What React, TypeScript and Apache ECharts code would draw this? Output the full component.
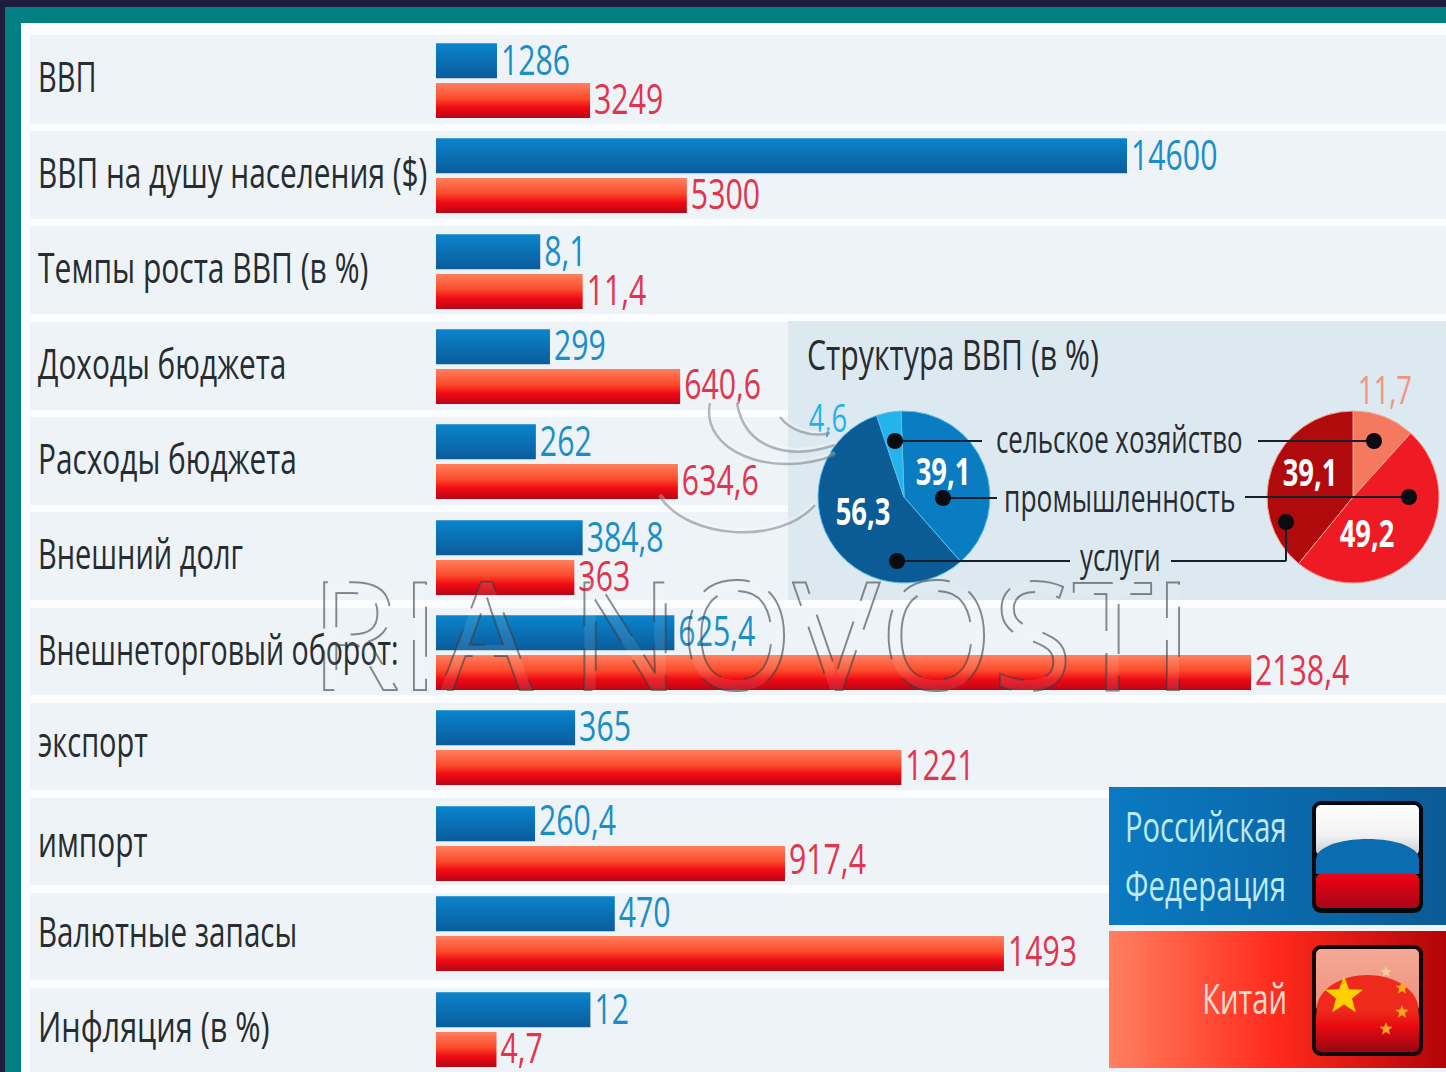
import React, { useEffect, useRef } from "react";
import * as echarts from "echarts";

const categories = ["ВВП", "ВВП на душу населения ($)", "Темпы роста ВВП (в %)", "Доходы бюджета", "Расходы бюджета", "Внешний долг", "Внешнеторговый оборот:", "экспорт", "импорт", "Валютные запасы", "Инфляция (в %)"];
const russia = [1286, 14600, 8.1, 299, 262, 384.8, 625.4, 365, 260.4, 470, 12];
const china = [3249, 5300, 11.4, 640.6, 634.6, 363, 2138.4, 1221, 917.4, 1493, 4.7];
const rowAxisMax = [21300, 21340, 78.5, 2650, 2650, 2650, 2650, 2650, 2655, 2655, 78.5];
const sectors = ["промышленность", "услуги", "сельское хозяйство"];
const russiaGdp = [39.1, 56.3, 4.6];
const chinaGdp = [11.7, 49.2, 39.1];

const rowTop = [35, 131, 226, 322, 417, 512, 608, 703, 798, 893, 988];
const rowBottom = [124, 219, 314, 410, 505, 600, 695, 790, 885, 980, 1072];
const barTop = [43, 138, 234, 329, 424, 520, 615, 710, 806, 896, 992];
const labelY = [76, 172, 267, 363, 458, 553, 649, 741, 841, 931, 1026];
const labelSx = [0.69, 0.71, 0.715, 0.71, 0.71, 0.69, 0.68, 0.69, 0.71, 0.705, 0.73];
const valueDy = [-2, -2, -2, -3, -2, -2, -3, -3, -5, -3, -2];
const FONT = "'Open Sans','Noto Sans',sans-serif";
const SX = 0.71;

const v = (a: any[]) => ({ type: "linear", x: 0, y: 0, x2: 0, y2: 1, colorStops: a.map(([offset, color]) => ({ offset, color })) });
const h = (a: any[]) => ({ type: "linear", x: 0, y: 0, x2: 1, y2: 0, colorStops: a.map(([offset, color]) => ({ offset, color })) });
const blueBar = v([[0, "#0a85cc"], [0.5, "#0a70b4"], [1, "#0b5c9c"]]);
const redBar = v([[0, "#ff8060"], [0.45, "#fb4a2a"], [0.7, "#f00a12"], [1, "#b80618"]]);
const comma = (n: number) => String(n).replace(".", ",");

const star = (cx: number, cy: number, r: number) => {
  const pts: number[][] = [];
  for (let i = 0; i < 10; i++) {
    const a = -Math.PI / 2 + (i * Math.PI) / 5;
    const rr = i % 2 ? r * 0.42 : r;
    pts.push([cx + rr * Math.cos(a), cy + rr * Math.sin(a)]);
  }
  return pts;
};
const rect = (x: number, y: number, width: number, height: number, fill: any, z = 0, r = 0) => ({ type: "rect", z, shape: { x, y, width, height, r }, style: { fill } });
const ell = (cx: number, cy: number, rx: number, ry: number, fill: any, z = 3) => ({ type: "ellipse", z, shape: { cx, cy, rx, ry }, style: { fill } });
const txt = (text: string, x: number, y: number, fontSize: number, fill: string, sx = SX, extra: any = {}) => ({
  type: "text", x, y, z: 8, scaleX: sx,
  style: { text, x: 0, y: 0, fontSize, fill, fontFamily: FONT, verticalAlign: "middle", align: "left", ...extra },
});
const line = (x1: number, y1: number, x2: number, y2: number) => ({ type: "line", z: 6, shape: { x1, y1, x2, y2 }, style: { stroke: "#15202a", lineWidth: 2 } });
const dot = (cx: number, cy: number) => ({ type: "circle", z: 7, shape: { cx, cy, r: 8 }, style: { fill: "#0b0b12" } });
const swirl = (x1: number, y1: number, cpx1: number, cpy1: number, cpx2: number, cpy2: number, x2: number, y2: number) => [
  { type: "bezierCurve", z: 9, shape: { x1, y1: y1 - 2, cpx1, cpy1: cpy1 - 2, cpx2, cpy2: cpy2 - 2, x2, y2: y2 - 2 }, style: { stroke: "rgba(255,255,255,0.3)", fill: "none", lineWidth: 4 } },
  { type: "bezierCurve", z: 9, shape: { x1, y1, cpx1, cpy1, cpx2, cpy2, x2, y2 }, style: { stroke: "rgba(110,115,120,0.5)", fill: "none", lineWidth: 2.5 } },
];

function buildOption() {
  const grid: any[] = [], xAxis: any[] = [], yAxis: any[] = [], series: any[] = [];
  categories.forEach((name, i) => {
    grid.push({ left: 436, width: 1010, top: barTop[i] - 2.25, height: 79.5 });
    xAxis.push({ type: "value", gridIndex: i, min: 0, max: rowAxisMax[i], show: false });
    yAxis.push({ type: "category", gridIndex: i, inverse: true, data: [name + " Р", name + " К"], show: false });
    series.push({ type: "bar", name: "Российская Федерация", xAxisIndex: i, yAxisIndex: i, barWidth: 35, barGap: "-100%", data: [russia[i], null], itemStyle: { color: blueBar } });
    series.push({ type: "bar", name: "Китай", xAxisIndex: i, yAxisIndex: i, barWidth: 35, barGap: "-100%", data: [null, china[i]], itemStyle: { color: redBar } });
    series.push({
      type: "custom", name: "Значения", xAxisIndex: i, yAxisIndex: i, z: 5, clip: false, silent: true,
      data: [[russia[i], 0], [china[i], 1]],
      renderItem: (_p: any, api: any) => {
        const val = api.value(0);
        const idx = api.value(1);
        const c = api.coord([val, idx]);
        return {
          type: "text", x: c[0] + 4, y: c[1] + valueDy[i], scaleX: 0.72,
          style: { text: comma(val), fontSize: 42, fontFamily: FONT, fill: idx === 0 ? "#1a8ec8" : "#e2344c", verticalAlign: "middle", align: "left" },
        };
      },
    });
  });
  const slice = (i: number, value: number, color: any) => ({ name: sectors[i], value, itemStyle: { color } });
  series.push({
    type: "pie", name: "Российская Федерация", center: [904, 497], radius: [0, 86], startAngle: 92, clockwise: true, sort: null as any, silent: true, z: 3,
    label: { show: false }, labelLine: { show: false }, itemStyle: { borderColor: "#5cc0ea", borderWidth: 1 },
    data: [slice(0, russiaGdp[0], "#0a7cc2"), slice(1, russiaGdp[1], "#0b5b96"), slice(2, russiaGdp[2], "#22b4ea")],
  });
  series.push({
    type: "pie", name: "Китай", center: [1353, 497], radius: [0, 86], startAngle: 90, clockwise: true, sort: null as any, silent: true, z: 3,
    label: { show: false }, labelLine: { show: false }, itemStyle: { borderColor: "#f7a090", borderWidth: 1 },
    data: [slice(2, chinaGdp[0], "#f4795e"), slice(0, chinaGdp[1], "#ee1a24"), slice(1, chinaGdp[2], "#b00a0c")],
  });

  const pieTxt = (val: number, cx: number, y: number, fill = "#ffffff", weight = "bold") =>
    txt(comma(val), cx, y, 38, fill, 0.72, { align: "center", fontWeight: weight });

  const graphic: any[] = [
    rect(0, 0, 1446, 1072, "#1f1d3d", -5),
    rect(5, 7, 1441, 1065, "#008080", -5),
    rect(21, 23, 1425, 1049, "#fbfdfe", -5),
    ...rowTop.map((t, i) => rect(30, t, 1416, rowBottom[i] - t, "#edf3f7", -4)),
    rect(788, 321, 658, 279, "#dde9f0", -3),
    rect(1109, 787, 337, 138, h([[0, "#0a7ac2"], [1, "#0b5a96"]]), 1),
    rect(1109, 931, 337, 137, h([[0, "#ff8060"], [0.5, "#ff2a1c"], [1, "#b20408"]]), 1),
    rect(1312, 801, 111, 112, "#07090f", 2, 9),
    rect(1316, 805, 103, 50, v([[0, "#ffffff"], [0.6, "#f2f2f2"], [1, "#c8ccd0"]]), 3, 5),
    ell(1367.5, 858, 51, 19, "#0c6cb2"),
    rect(1316, 858, 103, 16, "#0c6cb2", 3),
    rect(1316, 874, 103, 34, v([[0, "#ee0414"], [1, "#a80618"]]), 3, 5),
    rect(1312, 945, 111, 111, "#12060c", 2, 9),
    rect(1316, 949, 103, 62, v([[0, "#f4a996"], [1, "#f0907c"]]), 3, 5),
    ell(1367.5, 1010, 51, 35, "#ee2a1c"),
    rect(1316, 1010, 103, 42, v([[0, "#ee2a1c"], [0.4, "#e80a10"], [1, "#960614"]]), 3, 5),
    { type: "polygon", z: 4, shape: { points: star(1344, 996, 20) }, style: { fill: "#ffd000" } },
    { type: "polygon", z: 4, shape: { points: star(1386, 972, 6) }, style: { fill: "#ffcf9a" } },
    { type: "polygon", z: 4, shape: { points: star(1402, 988, 7) }, style: { fill: "#ffa520" } },
    { type: "polygon", z: 4, shape: { points: star(1402, 1012, 7) }, style: { fill: "#ffa520" } },
    { type: "polygon", z: 4, shape: { points: star(1386, 1029, 7) }, style: { fill: "#ffa520" } },
    ...categories.map((name, i) => txt(name, 38, labelY[i], 42, "#262c30", labelSx[i])),
    txt("Структура ВВП (в %)", 807, 354, 42, "#262c30", 0.72),
    txt("сельское хозяйство", 996, 438, 38, "#262c30", 0.68),
    txt("промышленность", 1004, 497, 38, "#262c30", 0.695),
    txt("услуги", 1080, 556, 38, "#262c30", 0.68),
    line(895, 441, 982, 441), line(1258, 441, 1374, 441),
    line(943, 498, 997, 498), line(1245, 497, 1409, 497),
    line(897, 561, 1070, 561), line(1171, 561, 1286, 561), line(1286, 561, 1286, 522),
    dot(895, 441), dot(943, 498), dot(897, 561), dot(1374, 441), dot(1409, 497), dot(1286, 522),
    pieTxt(russiaGdp[0], 943, 471),
    pieTxt(russiaGdp[1], 863, 511),
    pieTxt(russiaGdp[2], 828, 418, "#1fb3e8", "normal"),
    pieTxt(chinaGdp[0], 1385, 390, "#f2957e", "normal"),
    pieTxt(chinaGdp[1], 1367, 533),
    pieTxt(chinaGdp[2], 1310, 472),
    txt("Российская", 1125, 826, 42, "#bdeafa", 0.695),
    txt("Федерация", 1125, 885, 42, "#bdeafa", 0.7),
    txt("Китай", 1287, 998, 42, "#ffdccf", 0.695, { align: "right" }),
    ...swirl(660, 497, 690, 540, 780, 545, 815, 505),
    ...swirl(710, 403, 700, 450, 770, 480, 835, 455),
    ...swirl(737, 403, 745, 450, 790, 460, 835, 445),
    ...swirl(780, 417, 790, 430, 810, 438, 830, 433),
    { type: "text", z: 10, x: 310, y: 632, scaleX: 0.97, style: { text: "RIA NOVOSTI", x: 0, y: 0, fontSize: 150, fontFamily: "'Open Sans',sans-serif", fill: "rgba(255,255,255,0.1)", stroke: "rgba(50,55,60,0.6)", lineWidth: 2, lineDash: [50, 22], verticalAlign: "middle" } },
  ];
  return { animation: false, backgroundColor: "#1f1d3d", grid, xAxis, yAxis, series, graphic };
}

export default function App() {
  const ref = useRef<HTMLDivElement>(null);
  useEffect(() => {
    document.body.style.margin = "0";
    const chart = echarts.init(ref.current!, undefined, { renderer: "svg" });
    chart.setOption(buildOption() as any);
    return () => chart.dispose();
  }, []);
  return <div ref={ref} style={{ width: 1446, height: 1072 }} />;
}
